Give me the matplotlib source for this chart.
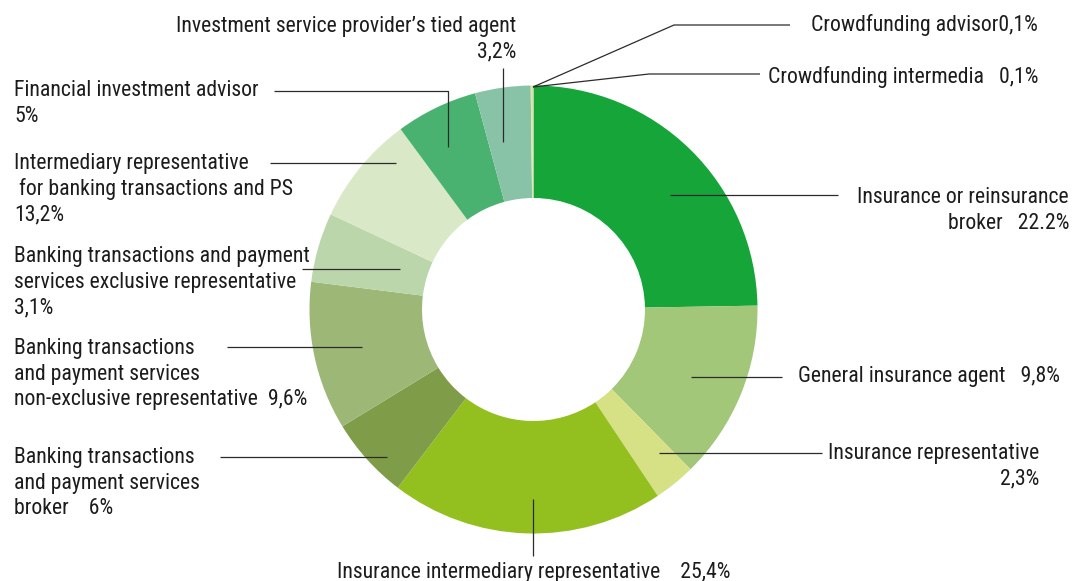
import matplotlib.pyplot as plt

plt.rcParams['font.family'] = ['Roboto Condensed', 'Roboto', 'DejaVu Sans']

W, H = 1072, 581  # canvas in pixels

# categories, clockwise from 12 o'clock
categories = [
    "Insurance or reinsurance broker",
    "General insurance agent",
    "Insurance representative",
    "Insurance intermediary representative",
    "Banking transactions and payment services broker",
    "Banking transactions and payment services non-exclusive representative",
    "Banking transactions and payment services exclusive representative",
    "Intermediary representative for banking transactions and PS",
    "Financial investment advisor",
    "Investment service provider's tied agent",
    "Crowdfunding intermedia",
    "Crowdfunding advisor",
]

# ring share as drawn in the picture (%)
sizes = [24.7, 12.9, 3.0, 19.7, 5.9, 10.7, 5.0, 7.9, 5.9, 4.0, 0.1, 0.1]

# label text as printed
label_text = [
    "Insurance or reinsurance\nbroker   22.2%",
    "General insurance agent   9,8%",
    "Insurance representative\n2,3%",
    "Insurance intermediary representative    25,4%",
    "Banking transactions\nand payment services\nbroker    6%",
    "Banking transactions\nand payment services\nnon-exclusive representative  9,6%",
    "Banking transactions and payment\nservices exclusive representative\n3,1%",
    "Intermediary representative\n for banking transactions and PS\n13,2%",
    "Financial investment advisor\n5%",
    "Investment service provider\u2019s tied agent\n3,2%",
    "Crowdfunding intermedia   0,1%",
    "Crowdfunding advisor0,1%",
]

colors = ["#16a539", "#a2c779", "#d6e085", "#93c01f", "#7f9d48", "#9db777",
          "#bcd6ab", "#d9e8c7", "#4ab271", "#88c3a7", "#e4e59c", "#c9dda2"]

# label placement: (x, y of first line, align) and leader path, pixels from top-left
text_pos = [
    (1069, 196, 'right'), (798, 375, 'left'), (1039, 452, 'right'),
    (533.5, 571, 'center'), (14, 456, 'left'), (14, 347, 'left'),
    (14, 255, 'left'), (14, 162, 'left'), (14, 89, 'left'),
    (516, 25, 'right'), (1038, 75, 'right'), (1038, 24, 'right'),
]
leaders = [
    [(670, 195), (838, 195)],
    [(691, 377), (782, 377)],
    [(659, 453), (822, 453)],
    [(533, 499), (533, 556)],
    [(387, 457), (220, 457)],
    [(362, 347), (227, 347)],
    [(400, 269), (302, 269)],
    [(396, 163), (270, 163)],
    [(448, 147), (448, 91), (274, 91)],
    [(503, 142), (503, 68)],
    [(533, 87), (649, 74), (760, 74)],
    [(533, 87), (674, 25), (790, 25)],
]

fig = plt.figure(figsize=(W / 100, H / 100), dpi=100)
ax = fig.add_axes([0, 0, 1, 1])

ax.pie(sizes, colors=colors, startangle=90, counterclock=False,
       radius=224, center=(533.5, H - 309.5),
       wedgeprops=dict(width=112.5, linewidth=0))

for (x, y, ha), path in zip(text_pos, leaders):
    xs = [p[0] for p in path]
    ys = [H - p[1] for p in path]
    ax.plot(xs, ys, color='#2b2b2b', lw=0.9, solid_capstyle='butt')

line_h = 25.7
for txt, (x, y, ha) in zip(label_text, text_pos):
    for i, line in enumerate(txt.split('\n')):
        ax.text(x, H - (y + 1.5 + i * line_h), line, ha=ha, va='center',
                fontsize=15.7, color='#1c1c1c')

ax.set_xlim(0, W)
ax.set_ylim(0, H)
ax.set_aspect('equal')
ax.set_axis_off()

fig.savefig('out.png', dpi=100)
